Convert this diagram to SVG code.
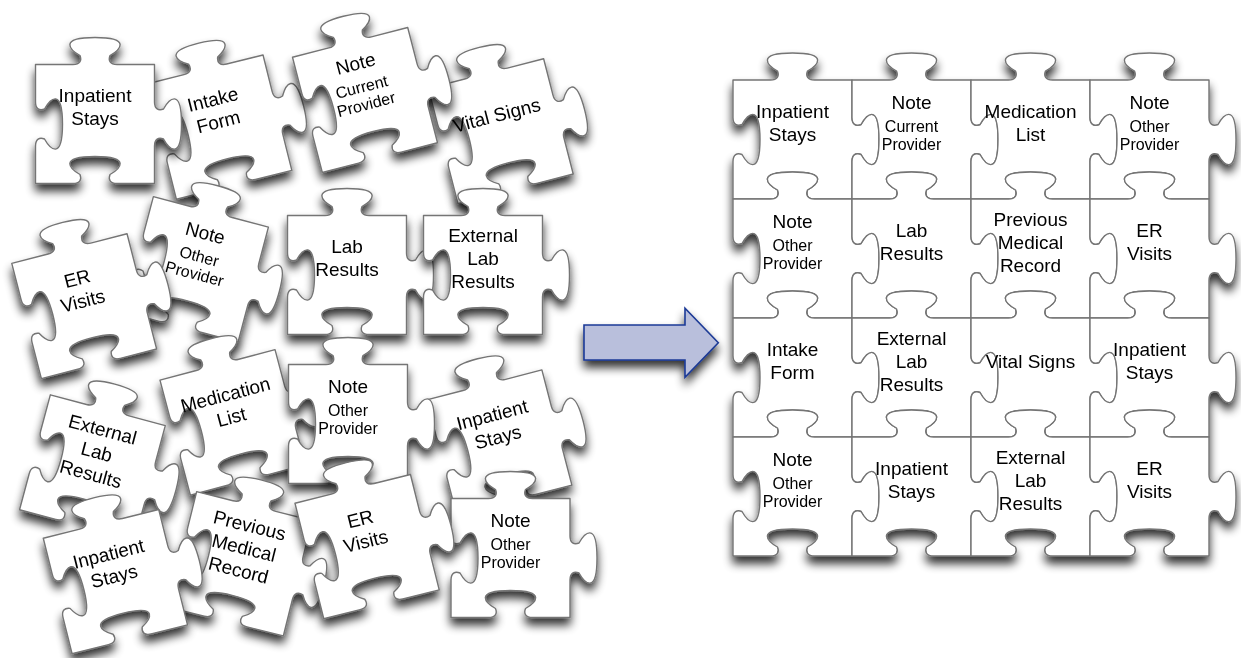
<svg xmlns="http://www.w3.org/2000/svg" xmlns:xlink="http://www.w3.org/1999/xlink" width="1241" height="658" viewBox="0 0 1241 658">
  <style>
    .pc { fill:#ffffff; stroke:#747474; stroke-width:1.4; stroke-linejoin:round; }
    .t { font-family:"Liberation Sans", Arial, Helvetica, sans-serif; font-size:19px; text-anchor:middle; fill:#000000; }
    .s { font-size:16px; }
    .arrow { fill:#b9bfdc; stroke:#1c3a96; stroke-width:1.6; stroke-linejoin:miter; }
  </style>
  <defs>
    <!-- Jigsaw piece, 119 x 119 body centred on the origin:
         tab on top and right, socket on bottom and left -->
    <path id="piece" class="pc" d="M-59.5,-59.5 L-22,-59.5
      C-15,-59.5 -13,-63.5 -15,-68.5 C-24,-73.5 -38,-86.5 0,-86.5 C38,-86.5 24,-73.5 15,-68.5 C13,-63.5 15,-59.5 22,-59.5
      L59.5,-59.5 L59.5,-22
      C59.5,-15 63.5,-13 68.5,-15 C73.5,-24 86.5,-38 86.5,0 C86.5,38 73.5,24 68.5,15 C63.5,13 59.5,15 59.5,22
      L59.5,59.5 L22,59.5
      C15,59.5 13,55.5 15,50.5 C24,45.5 38,32.5 0,32.5 C-38,32.5 -24,45.5 -15,50.5 C-13,55.5 -15,59.5 -22,59.5
      L-59.5,59.5 L-59.5,22
      C-59.5,15 -55.5,13 -50.5,15 C-45.5,24 -32.5,38 -32.5,0 C-32.5,-38 -45.5,-24 -50.5,-15 C-55.5,-13 -59.5,-15 -59.5,-22 Z"/>
    <filter id="shadow" x="-25%" y="-25%" width="150%" height="160%">
      <feGaussianBlur in="SourceAlpha" stdDeviation="5"/>
      <feOffset dx="0" dy="7" result="b"/>
      <feComponentTransfer><feFuncA type="linear" slope="0.8"/></feComponentTransfer>
      <feMerge><feMergeNode/><feMergeNode in="SourceGraphic"/></feMerge>
    </filter>
  </defs>

  <rect width="1241" height="658" fill="#ffffff"/>

  <!-- Loose pieces, bottom of the pile first -->
  <g id="loose">
    <g id="loose-intake-form" filter="url(#shadow)"><g transform="translate(219.7,127.1) rotate(-14)">
      <use xlink:href="#piece"/>
      <text class="t"><tspan x="0" y="-22">Intake</tspan><tspan x="0" y="1">Form</tspan></text>
    </g></g>
    <g id="loose-vital-signs" filter="url(#shadow)"><g transform="translate(500.8,131.2) rotate(-14.4)">
      <use xlink:href="#piece"/>
      <text class="t" x="0" y="-10">Vital Signs</text>
    </g></g>
    <g id="loose-note-current" filter="url(#shadow)"><g transform="translate(365,100) rotate(-14.5)">
      <use xlink:href="#piece"/>
      <text class="t"><tspan x="0" y="-31">Note</tspan><tspan class="s" x="0" y="-8">Current</tspan><tspan class="s" x="0" y="10">Provider</tspan></text>
    </g></g>
    <g id="loose-inpatient-1" filter="url(#shadow)"><g transform="translate(95,124)">
      <use xlink:href="#piece"/>
      <text class="t"><tspan x="0" y="-22">Inpatient</tspan><tspan x="0" y="1">Stays</tspan></text>
    </g></g>
    <g id="loose-note-other-1" filter="url(#shadow)"><g transform="translate(195.7,269.4) rotate(14.8)">
      <use xlink:href="#piece"/>
      <text class="t"><tspan x="0" y="-31">Note</tspan><tspan class="s" x="0" y="-8">Other</tspan><tspan class="s" x="0" y="10">Provider</tspan></text>
    </g></g>
    <g id="loose-er-visits-1" filter="url(#shadow)"><g transform="translate(84.2,306.2) rotate(-14.4)">
      <use xlink:href="#piece"/>
      <text class="t"><tspan x="0" y="-22">ER</tspan><tspan x="0" y="1">Visits</tspan></text>
    </g></g>
    <g id="loose-lab-results" filter="url(#shadow)"><g transform="translate(347,275)">
      <use xlink:href="#piece"/>
      <text class="t"><tspan x="0" y="-22">Lab</tspan><tspan x="0" y="1">Results</tspan></text>
    </g></g>
    <g id="loose-external-1" filter="url(#shadow)"><g transform="translate(483,275)">
      <use xlink:href="#piece"/>
      <text class="t"><tspan x="0" y="-33">External</tspan><tspan x="0" y="-10">Lab</tspan><tspan x="0" y="13">Results</tspan></text>
    </g></g>
    <g id="loose-medication-list" filter="url(#shadow)"><g transform="translate(232.7,422.4) rotate(-14.8)">
      <use xlink:href="#piece"/>
      <text class="t"><tspan x="0" y="-22">Medication</tspan><tspan x="0" y="1">List</tspan></text>
    </g></g>
    <g id="loose-inpatient-2" filter="url(#shadow)"><g transform="translate(499.3,442.5) rotate(-14.6)">
      <use xlink:href="#piece"/>
      <text class="t"><tspan x="0" y="-22">Inpatient</tspan><tspan x="0" y="1">Stays</tspan></text>
    </g></g>
    <g id="loose-note-other-2" filter="url(#shadow)"><g transform="translate(348,424)">
      <use xlink:href="#piece"/>
      <text class="t"><tspan x="0" y="-31">Note</tspan><tspan class="s" x="0" y="-8">Other</tspan><tspan class="s" x="0" y="10">Provider</tspan></text>
    </g></g>
    <g id="loose-external-2" filter="url(#shadow)"><g transform="translate(92.4,467.7) rotate(15)">
      <use xlink:href="#piece"/>
      <text class="t"><tspan x="0" y="-33">External</tspan><tspan x="0" y="-10">Lab</tspan><tspan x="0" y="13">Results</tspan></text>
    </g></g>
    <g id="loose-previous-record" filter="url(#shadow)"><g transform="translate(240,563.8) rotate(14)">
      <use xlink:href="#piece"/>
      <text class="t"><tspan x="0" y="-33">Previous</tspan><tspan x="0" y="-10">Medical</tspan><tspan x="0" y="13">Record</tspan></text>
    </g></g>
    <g id="loose-inpatient-3" filter="url(#shadow)"><g transform="translate(115.4,581.6) rotate(-14)">
      <use xlink:href="#piece"/>
      <text class="t"><tspan x="0" y="-22">Inpatient</tspan><tspan x="0" y="1">Stays</tspan></text>
    </g></g>
    <g id="loose-note-other-3" filter="url(#shadow)"><g transform="translate(510.5,558)">
      <use xlink:href="#piece"/>
      <text class="t"><tspan x="0" y="-31">Note</tspan><tspan class="s" x="0" y="-8">Other</tspan><tspan class="s" x="0" y="10">Provider</tspan></text>
    </g></g>
    <g id="loose-er-visits-2" filter="url(#shadow)"><g transform="translate(367.1,546.6) rotate(-14)">
      <use xlink:href="#piece"/>
      <text class="t"><tspan x="0" y="-22">ER</tspan><tspan x="0" y="1">Visits</tspan></text>
    </g></g>
  </g>

  <!-- Block arrow -->
  <g id="connectors" filter="url(#shadow)">
    <polygon class="arrow" points="584,325 685,325 685,308.3 718.3,342.7 685,377.3 685,360 584,360"/>
  </g>

  <!-- Assembled 4 x 4 puzzle, drawn row by row, left to right -->
  <g id="assembled" filter="url(#shadow)">
    <g id="r0c0" transform="translate(792.5,139.5)"><use xlink:href="#piece"/>
      <text class="t"><tspan x="0" y="-22">Inpatient</tspan><tspan x="0" y="1">Stays</tspan></text></g>
    <g id="r0c1" transform="translate(911.5,139.5)"><use xlink:href="#piece"/>
      <text class="t"><tspan x="0" y="-31">Note</tspan><tspan class="s" x="0" y="-8">Current</tspan><tspan class="s" x="0" y="10">Provider</tspan></text></g>
    <g id="r0c2" transform="translate(1030.5,139.5)"><use xlink:href="#piece"/>
      <text class="t"><tspan x="0" y="-22">Medication</tspan><tspan x="0" y="1">List</tspan></text></g>
    <g id="r0c3" transform="translate(1149.5,139.5)"><use xlink:href="#piece"/>
      <text class="t"><tspan x="0" y="-31">Note</tspan><tspan class="s" x="0" y="-8">Other</tspan><tspan class="s" x="0" y="10">Provider</tspan></text></g>

    <g id="r1c0" transform="translate(792.5,258.5)"><use xlink:href="#piece"/>
      <text class="t"><tspan x="0" y="-31">Note</tspan><tspan class="s" x="0" y="-8">Other</tspan><tspan class="s" x="0" y="10">Provider</tspan></text></g>
    <g id="r1c1" transform="translate(911.5,258.5)"><use xlink:href="#piece"/>
      <text class="t"><tspan x="0" y="-22">Lab</tspan><tspan x="0" y="1">Results</tspan></text></g>
    <g id="r1c2" transform="translate(1030.5,258.5)"><use xlink:href="#piece"/>
      <text class="t"><tspan x="0" y="-33">Previous</tspan><tspan x="0" y="-10">Medical</tspan><tspan x="0" y="13">Record</tspan></text></g>
    <g id="r1c3" transform="translate(1149.5,258.5)"><use xlink:href="#piece"/>
      <text class="t"><tspan x="0" y="-22">ER</tspan><tspan x="0" y="1">Visits</tspan></text></g>

    <g id="r2c0" transform="translate(792.5,377.5)"><use xlink:href="#piece"/>
      <text class="t"><tspan x="0" y="-22">Intake</tspan><tspan x="0" y="1">Form</tspan></text></g>
    <g id="r2c1" transform="translate(911.5,377.5)"><use xlink:href="#piece"/>
      <text class="t"><tspan x="0" y="-33">External</tspan><tspan x="0" y="-10">Lab</tspan><tspan x="0" y="13">Results</tspan></text></g>
    <g id="r2c2" transform="translate(1030.5,377.5)"><use xlink:href="#piece"/>
      <text class="t" x="0" y="-10">Vital Signs</text></g>
    <g id="r2c3" transform="translate(1149.5,377.5)"><use xlink:href="#piece"/>
      <text class="t"><tspan x="0" y="-22">Inpatient</tspan><tspan x="0" y="1">Stays</tspan></text></g>

    <g id="r3c0" transform="translate(792.5,496.5)"><use xlink:href="#piece"/>
      <text class="t"><tspan x="0" y="-31">Note</tspan><tspan class="s" x="0" y="-8">Other</tspan><tspan class="s" x="0" y="10">Provider</tspan></text></g>
    <g id="r3c1" transform="translate(911.5,496.5)"><use xlink:href="#piece"/>
      <text class="t"><tspan x="0" y="-22">Inpatient</tspan><tspan x="0" y="1">Stays</tspan></text></g>
    <g id="r3c2" transform="translate(1030.5,496.5)"><use xlink:href="#piece"/>
      <text class="t"><tspan x="0" y="-33">External</tspan><tspan x="0" y="-10">Lab</tspan><tspan x="0" y="13">Results</tspan></text></g>
    <g id="r3c3" transform="translate(1149.5,496.5)"><use xlink:href="#piece"/>
      <text class="t"><tspan x="0" y="-22">ER</tspan><tspan x="0" y="1">Visits</tspan></text></g>
  </g>
</svg>
